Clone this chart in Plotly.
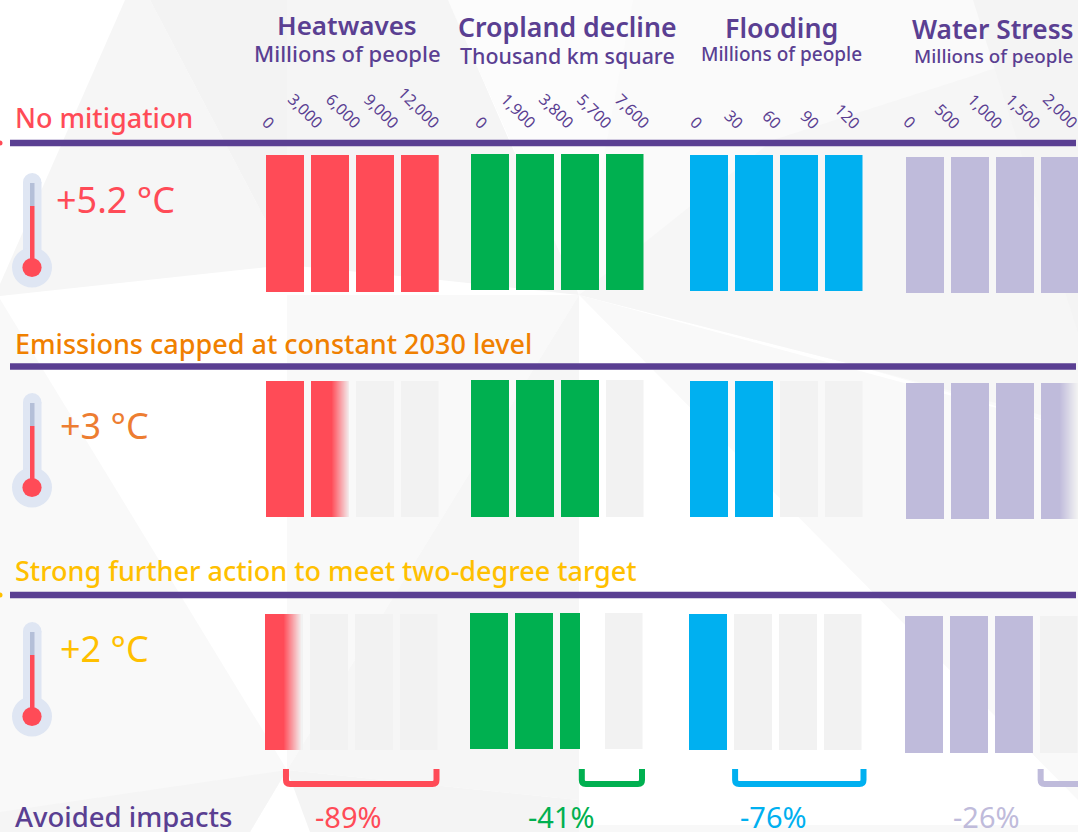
import plotly.graph_objects as go

W, H = 1078, 832

# Data
scenarios = ["No mitigation", "Emissions capped at constant 2030 level",
             "Strong further action to meet two-degree target"]
warming = ["+5.2 °C", "+3 °C", "+2 °C"]
impacts = ["Heatwaves", "Cropland decline", "Flooding", "Water Stress"]
units = ["Millions of people", "Thousand km square", "Millions of people", "Millions of people"]
axis_max = [12000, 7600, 120, 2000]
tick_values = [
    [0, 3000, 6000, 9000, 12000],
    [0, 1900, 3800, 5700, 7600],
    [0, 30, 60, 90, 120],
    [0, 500, 1000, 1500, 2000],
]
heatwaves = [12000, 4600, 1320]
cropland = [8200, 5650, 4838]
flooding = [120, 59, 28.8]
water_stress = [2000, 1785, 1480]
avoided_pct = [89, 41, 76, 26]

# Styling
PURPLE = "#5a3f92"
IMPACT_COLORS = ["#ff4b57", "#00b050", "#00b0f0", "#bfbbdb"]
SCENARIO_COLORS = ["#ff4b57", "#f08000", "#ffc000"]
WARMING_COLORS = ["#ff4b57", "#ed7d31", "#ffc000"]
EMPTY = "#f2f2f2"
FONT = "Noto Sans"

COL_LEFT = [266, 471, 690, 906]
SPAN = 172.5
BLOCK_PX, GAP_PX, FADE_PX = 38, 7, 18
ROW_SHIFT = [0, 0, -1]
BAR_Y = [
    [(155, 292), (381, 517), (614, 750)],
    [(154, 290), (380, 517), (613, 749)],
    [(155, 291), (381, 517), (614, 750)],
    [(157, 293), (383, 519), (616, 753)],
]
FADES = [True, False, False, True]
TICK_LEFT = [268, 481, 696, 909.5]
TICK_STEP = 37.85
RULE_Y = [143, 366.5, 595]
THERMO_TOP = [173, 393, 622]
HEAD_X = [347, 567, 781, 993]
HEAD_Y = [(25, 53), (26, 55), (27, 54), (29, 56)]
HEAD_SIZE = [26, 26.7, 26.8, 26.3]
UNIT_SIZE = [22, 21.4, 19, 18.8]
BRACKET_LEFT_PAD = [1, 1, 3.7, 7]
BRACKET_RIGHT_PAD = [-2, -1.5, 1, 5.5]


def px(x):
    return x / W


def py(y):
    return 1 - y / H


def mix(c0, c1, t):
    a = [int(c0[i:i + 2], 16) for i in (1, 3, 5)]
    b = [int(c1[i:i + 2], 16) for i in (1, 3, 5)]
    return "#%02x%02x%02x" % tuple(round(p + (q - p) * t) for p, q in zip(a, b))


series = [heatwaves, cropland, flooding, water_stress]
fig = go.Figure()
axis_id = 0
layout_axes = {}

for c, values in enumerate(series):
    u = axis_max[c] / SPAN
    block = BLOCK_PX * u
    pitch = (BLOCK_PX + GAP_PX) * u
    for r, value in enumerate(values):
        axis_id += 1
        xa, ya = f"x{axis_id}", f"y{axis_id}"
        left = COL_LEFT[c] + ROW_SHIFT[r]
        right = min(left + SPAN, W)
        top, bottom = BAR_Y[c][r]
        layout_axes[f"xaxis{axis_id}"] = dict(domain=[px(left), px(right)],
                                              range=[0, (right - left) * u], visible=False,
                                              fixedrange=True, anchor=ya)
        layout_axes[f"yaxis{axis_id}"] = dict(domain=[py(bottom), py(top)], range=[0, 1],
                                              visible=False, fixedrange=True, anchor=xa)
        xs, ws, cols = [], [], []
        for k in range(4):
            start = k * pitch
            end = start + block
            if value <= start:
                xs.append(start), ws.append(block), cols.append(EMPTY)
                continue
            if value >= end or not FADES[c]:
                stop = min(value, end)
                xs.append(start), ws.append(stop - start), cols.append(IMPACT_COLORS[c])
                continue
            # Solid up to the value, then a short fade into the empty block colour
            xs.append(start), ws.append(end - start), cols.append(IMPACT_COLORS[c])
            n = int(FADE_PX)
            for s in range(n):
                x0 = value + s * u
                if x0 >= end:
                    break
                xs.append(x0), ws.append(end - x0)
                cols.append(mix(IMPACT_COLORS[c], EMPTY, (s + 1) / n))
        fig.add_trace(go.Bar(x=[a + b / 2 for a, b in zip(xs, ws)], y=[1] * len(xs), width=ws,
                             marker=dict(color=cols, line=dict(width=0)), xaxis=xa, yaxis=ya,
                             hoverinfo="skip", showlegend=False))

# Rotated tick labels, one scale per impact
tick_annotations = []
for c, ticks in enumerate(tick_values):
    axis_id += 1
    xa, ya = f"x{axis_id}", f"y{axis_id}"
    l = TICK_LEFT[c]
    layout_axes[f"xaxis{axis_id}"] = dict(domain=[px(l), min(px(l + 4 * TICK_STEP), 1)],
                                          range=[0, ticks[-1] * min(1, (W - l) / (4 * TICK_STEP))],
                                          visible=False, fixedrange=True, anchor=ya)
    layout_axes[f"yaxis{axis_id}"] = dict(domain=[py(135), py(130)], range=[0, 1], visible=False,
                                          fixedrange=True, anchor=xa)
    fig.add_trace(go.Scatter(x=ticks, y=[0] * len(ticks), mode="markers", marker=dict(opacity=0),
                             xaxis=xa, yaxis=ya, hoverinfo="skip", showlegend=False, cliponaxis=False))
    for t in ticks:
        tick_annotations.append(dict(x=t, xref=xa, y=py(136), yref="paper", text=f"{t:,}",
                                     textangle=45, xanchor="center", yanchor="bottom", showarrow=False,
                                     font=dict(family=FONT, size=16, color=PURPLE)))


def label(x, y, text, size, color, anchor="left", weight=400):
    return dict(x=px(x), y=py(y), xref="paper", yref="paper", text=text, showarrow=False,
                xanchor=anchor, yanchor="middle",
                font=dict(family=FONT, size=size, color=color, weight=weight))


annotations = tick_annotations
for c in range(4):
    annotations.append(label(HEAD_X[c], HEAD_Y[c][0], impacts[c], HEAD_SIZE[c], PURPLE, "center", 600))
    annotations.append(label(HEAD_X[c], HEAD_Y[c][1], units[c], UNIT_SIZE[c], PURPLE, "center", 500))
title_y = [117, 343, 570]
warm_xy = [(54, 199), (58, 426), (58, 648)]
for r in range(3):
    annotations.append(label(13, title_y[r], scenarios[r], 27, SCENARIO_COLORS[r], weight=500))
    annotations.append(label(warm_xy[r][0], warm_xy[r][1], warming[r], 36, WARMING_COLORS[r]))
annotations.append(label(13, 816, "Avoided impacts", 27.5, PURPLE, weight=500))
pct_x = [348, 561, 773, 986]
for c in range(4):
    annotations.append(label(pct_x[c], 816, f"-{avoided_pct[c]}%", 29, IMPACT_COLORS[c], "center"))


def paper_rect(x0, y0, x1, y1, color, layer="above"):
    return dict(type="rect", xref="paper", yref="paper", x0=px(x0), x1=px(x1), y0=py(y0), y1=py(y1),
                fillcolor=color, line=dict(width=0), layer=layer)


def paper_circle(cx, cy, rad, color):
    return dict(type="circle", xref="paper", yref="paper", x0=px(cx - rad), x1=px(cx + rad),
                y0=py(cy - rad), y1=py(cy + rad), fillcolor=color, line=dict(width=0), layer="above")


shapes = []

# Low-poly backdrop
backdrop = [
    ("#fafafa", [(448, 0), (1078, 0), (1078, 430), (847, 363), (579, 295)]),
    ("#fcfcfc", [(448, 0), (633, 0), (607, 140), (579, 295)]),
    ("#f6f6f6", [(579, 295), (773, 140), (969, 77), (1078, 40), (1078, 425), (847, 363)]),
    ("#f4f4f4", [(973, 0), (1078, 0), (1078, 333)]),
    ("#f6f6f6", [(125, 0), (150, 0), (268, 225), (287, 265), (0, 296), (0, 284)]),
    ("#f3f3f3", [(150, 0), (287, 0), (287, 265), (268, 225)]),
    ("#f5f5f5", [(287, 0), (448, 0), (509, 140), (579, 295), (440, 280), (287, 265)]),
    ("#f9f9f9", [(579, 295), (1078, 430), (1078, 800)]),
    ("#f9f9f9", [(287, 295), (579, 295), (287, 770)]),
    ("#f6f6f6", [(579, 295), (579, 800), (287, 770)]),
    ("#f4f4f4", [(287, 770), (579, 800), (579, 832), (310, 832)]),
    ("#f9f9f9", [(0, 299), (287, 770), (250, 832), (0, 832)]),
    ("#f5f5f5", [(0, 812), (287, 770), (250, 832), (0, 832)]),
    ("#f8f8f8", [(579, 825), (1078, 825), (1078, 832), (579, 832)]),
]
for color, pts in backdrop:
    path = "M " + " L ".join(f"{px(x)} {py(y)}" for x, y in pts) + " Z"
    shapes.append(dict(type="path", path=path, xref="paper", yref="paper", fillcolor=color,
                       line=dict(width=0), layer="below"))

# Scenario rules
for r, y in enumerate(RULE_Y):
    shapes.append(paper_rect(10, y - 3.2, 1076, y + 3.2, PURPLE))
    if r != 1:
        shapes.append(paper_circle(0, y, 2.5, SCENARIO_COLORS[r]))

# Thermometers
for top in THERMO_TOP:
    shapes.append(paper_rect(23, top + 9, 41.5, top + 80, "#dfe6f3"))
    shapes.append(paper_circle(32.2, top + 9.2, 9.2, "#dfe6f3"))
    shapes.append(paper_circle(32, top + 94.5, 20, "#dfe6f3"))
    shapes.append(paper_rect(30, top + 10, 34.5, top + 33, "#b4bfd8"))
    shapes.append(paper_rect(30, top + 33, 34.5, top + 90, "#ff4b57"))
    shapes.append(paper_circle(32, top + 94.5, 9.6, "#ff4b57"))

# Brackets run from the two-degree value to the end of each scale
for c in range(4):
    x0 = COL_LEFT[c] + series[c][2] / axis_max[c] * SPAN + BRACKET_LEFT_PAD[c]
    x1 = COL_LEFT[c] + SPAN + BRACKET_RIGHT_PAD[c]
    y0, y1, rr = 769, 784, 4
    path = (f"M {px(x0)} {py(y0)} L {px(x0)} {py(y1 - rr)} Q {px(x0)} {py(y1)} {px(x0 + rr)} {py(y1)} "
            f"L {px(x1 - rr)} {py(y1)} Q {px(x1)} {py(y1)} {px(x1)} {py(y1 - rr)} L {px(x1)} {py(y0)}")
    shapes.append(dict(type="path", path=path, xref="paper", yref="paper",
                       line=dict(color=IMPACT_COLORS[c], width=6), layer="above"))

fig.update_layout(width=W, height=H, margin=dict(l=0, r=0, t=0, b=0), paper_bgcolor="white",
                  plot_bgcolor="rgba(0,0,0,0)", barmode="overlay", bargap=0, showlegend=False,
                  shapes=shapes, annotations=annotations, **layout_axes)
fig.write_html("out.html", config=dict(displayModeBar=False))
